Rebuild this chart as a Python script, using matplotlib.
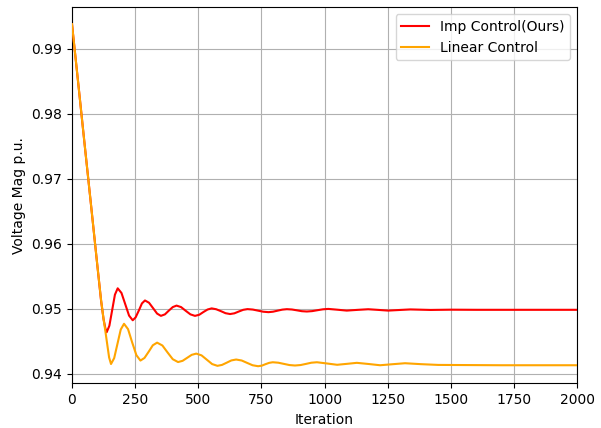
import matplotlib
matplotlib.use("Agg")
import matplotlib.pyplot as plt

# values
imp_iter = [0, 25, 50, 75, 100, 115, 125, 132, 137.5,
            148, 159, 170, 181,
            196, 211, 226, 240.5,
            252, 265, 277, 289,
            305, 321, 337, 352,
            368, 383, 399, 414,
            432, 450, 469, 487,
            504, 520, 537, 553,
            571, 590, 608, 626,
            643, 660, 678, 695,
            716, 736, 757, 778,
            796, 814, 833, 851,
            871, 891, 910, 930,
            951, 972, 994, 1015,
            1050, 1088, 1130, 1173, 1212, 1252, 1300, 1340, 1420,
            1500, 1600, 1750, 2000]
imp_val = [0.9938, 0.9846, 0.9753, 0.9661, 0.9568, 0.9513, 0.9484, 0.9470, 0.9464,
           0.94739, 0.94978, 0.95217, 0.95315,
           0.95243, 0.95069, 0.94895, 0.94823,
           0.94868, 0.94976, 0.95083, 0.95128,
           0.95093, 0.95010, 0.94926, 0.94891,
           0.94914, 0.94970, 0.95026, 0.95049,
           0.95026, 0.94970, 0.94914, 0.94891,
           0.94908, 0.94949, 0.94989, 0.95006,
           0.94993, 0.94963, 0.94932, 0.94919,
           0.94930, 0.94957, 0.94984, 0.94995,
           0.94988, 0.94972, 0.94955, 0.94948,
           0.94955, 0.94971, 0.94987, 0.94994,
           0.94989, 0.94976, 0.94963, 0.94958,
           0.94964, 0.94978, 0.94992, 0.94998,
           0.94986, 0.94972, 0.94983, 0.94993, 0.94983, 0.94972, 0.94982, 0.94990, 0.94982,
           0.94986, 0.94984, 0.94984, 0.94984]

lin_iter = [0, 25, 50, 75, 100, 115, 125, 132, 140, 147, 154.5,
            167, 180, 193, 206,
            222, 238, 255, 271,
            287, 304, 320, 337,
            358, 378, 399, 420,
            438, 456, 474, 492,
            513, 534, 555, 576,
            594, 613, 631, 650,
            672, 693, 715, 737,
            752, 766, 781, 795,
            817, 839, 861, 883,
            905, 927, 948, 970,
            1010, 1050, 1090, 1128, 1175, 1220, 1270, 1319, 1380,
            1450, 1550, 1700, 2000]
lin_val = [0.9938, 0.9846, 0.9753, 0.9661, 0.9568, 0.9514, 0.9484, 0.9466, 0.9444, 0.9425, 0.9415,
           0.9424, 0.9446, 0.9468, 0.94769,
           0.94686, 0.94486, 0.94286, 0.94203,
           0.94243, 0.94341, 0.94438, 0.94479,
           0.94435, 0.94330, 0.94224, 0.94180,
           0.94199, 0.94245, 0.94291, 0.94310,
           0.94283, 0.94216, 0.94149, 0.94122,
           0.94136, 0.94171, 0.94205, 0.94219,
           0.94204, 0.94168, 0.94131, 0.94116,
           0.94125, 0.94147, 0.94168, 0.94177,
           0.94170, 0.94152, 0.94134, 0.94127,
           0.94134, 0.94152, 0.94170, 0.94177,
           0.94158, 0.94138, 0.94153, 0.94168, 0.94150, 0.94131, 0.94147, 0.94162, 0.94148,
           0.94136, 0.94134, 0.94131, 0.94131]

fig = plt.figure(figsize=(6.01, 4.28), dpi=100)
ax = fig.add_axes([0.1198, 0.1044, 0.8403, 0.879])

ax.plot(imp_iter, imp_val, color="red", linewidth=1.5, zorder=3,
        label="Imp Control(Ours)")
ax.plot(lin_iter, lin_val, color="orange", linewidth=1.5, zorder=3,
        label="Linear Control")

ax.set_xlim(0, 2000)
ax.set_xlabel("Iteration")
ax.set_ylabel("Voltage Mag p.u.")
ax.grid(True, color="#b0b0b0", linewidth=0.8)
ax.legend(loc="upper right")

fig.savefig("out.png", dpi=100)
